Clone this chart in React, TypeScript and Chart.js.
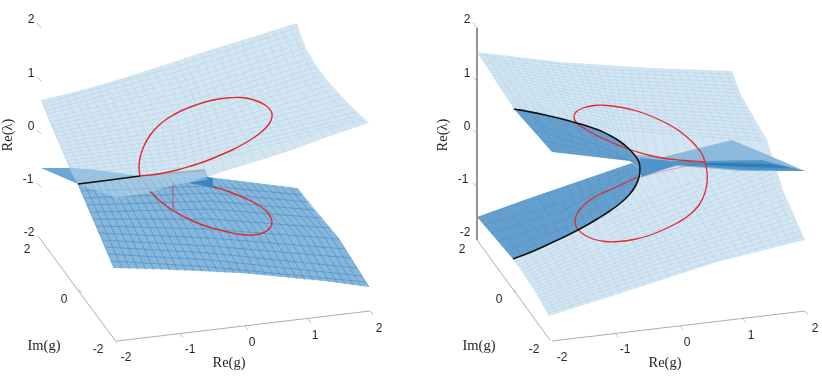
import React, { useEffect, useRef } from "react";
import { Chart, registerables } from "chart.js";

Chart.register(...registerables);

type P = [number, number];

// LEFT VIEW: surfaces
const leftFlap: P[] = [[41,168],[73,168],[97,170],[140,176],[78,184],[41,168]];
const leftLower: P[] = [[78,184],[140,176],[205,170],[208,177],[297,188],[310,205],[339,239],[354,263],[369,287],[325,281],[283,277],[240,273],[200,271],[155,269],[114,268],[78,184]];
const leftUpper: P[] = [[41,100],[70,93],[100,85],[133,75],[167,64],[200,53],[233,43],[265,33],[297,23],[301,36],[307,50],[316,65],[327,80],[347,102],[369,123],[330,136],[292,150],[258,161],[225,171],[208,177],[205,170],[140,176],[78,184],[70,170],[60,146],[50,123],[41,100]];
const leftPatch: P[] = [[80,185],[140,176],[205,170],[207,180],[173,185],[147,193],[117,198],[80,185]];
const leftDark: P[] = [[188,183],[205,177],[213,178],[213,188],[200,185],[188,183]];

// LEFT VIEW: upper sheet mesh
const lUpBack: P[] = [[41,100],[57,96],[73,92],[89,88],[105,83],[121,79],[137,74],[153,69],[169,64],[185,59],[201,53],[217,48],[233,43],[249,38],[265,33],[281,28]];
const lUpMid: P[] = [[59,142],[76,140],[93,137],[110,134],[127,131],[144,128],[161,124],[178,121],[195,117],[207,112],[222,108],[238,103],[254,99],[270,95],[288,90],[307,85]];
const lUpFront: P[] = [[78,184],[94,182],[110,180],[125,178],[140,176],[156,175],[172,173],[188,172],[205,170],[225,171],[245,165],[265,158],[285,152],[305,145],[325,138],[347,131]];
const lUpBack2: P[] = [[49,98],[65,94],[81,90],[97,85.5],[113,81],[129,76.5],[145,71.5],[161,66.5],[177,61.5],[193,56],[209,50.5],[225,45.5],[241,40.5],[257,35.5],[273,30.5],[289,25.5]];
const lUpMid2: P[] = [[67.5,141],[84.5,138.5],[101.5,135.5],[118.5,132.5],[135.5,129.5],[152.5,126],[169.5,122.5],[186.5,119],[201,114.5],[214.5,110],[230,105.5],[246,101],[262,97],[279,92.5],[297.5,87.5],[317,82.5]];
const lUpFront2: P[] = [[86,183],[102,181],[117.5,179],[132.5,177],[148,175.5],[164,174],[180,172.5],[196.5,171],[215,174],[235,168],[255,161.5],[275,155],[295,148.5],[315,141.5],[336,134.5],[358,127]];
const lUpRowL: P[] = [[44,107],[47,114],[50,122],[53,129],[56,136],[59,143],[62,150],[65,157],[68,164],[71,171],[74,177]];
const lUpRowM: P[] = [[180,71],[180,82],[180,93],[180,104],[180,115],[180,125],[180,134],[180,143],[180,151],[180,159],[190,167]];
const lUpRowR: P[] = [[298,33],[302,43],[306,53],[312,63],[318,72],[325,80],[333,90],[341,99],[350,108],[358,116],[364,120]];
const lUpRowL2: P[] = [[42.5,103.5],[45.5,110.5],[48.5,118],[51.5,125.5],[54.5,132.5],[57.5,139.5],[60.5,146.5],[63.5,153.5],[66.5,160.5],[69.5,167.5],[72.5,174]];
const lUpRowM2: P[] = [[180,65.5],[180,76.5],[180,87.5],[180,98.5],[180,109.5],[180,120],[180,129.5],[180,138.5],[180,147],[180,155],[185,163]];
const lUpRowR2: P[] = [[297,28],[300,38],[304,48],[310,58],[316,67.5],[322,76],[330,85],[339,94.5],[348,103.5],[356,112],[362,118]];

// LEFT VIEW: lower sheet mesh
const lLoTop: P[] = [[78,184],[91,183],[104,182],[118,181],[131,180],[144,179],[157,178],[170,178],[183,178],[196,178],[208,177],[220,179],[235,180],[250,182],[265,184],[281,186],[297,188]];
const lLoMid: P[] = [[96,226],[111,226],[126,226],[141,226],[157,227],[172,227],[187,228],[202,228],[218,229],[233,229],[248,229],[263,230],[278,231],[294,232],[309,234],[324,236],[339,239]];
const lLoBot: P[] = [[114,268],[130,269],[146,270],[162,270],[178,271],[194,271],[210,272],[226,273],[241,273],[257,274],[273,275],[289,278],[305,280],[321,281],[337,283],[353,285],[369,287]];
const lLoTop2: P[] = [[84.5,183.5],[97.5,182.5],[111,181.5],[124.5,180.5],[137.5,179.5],[150.5,178.5],[163.5,178],[176.5,178],[189.5,178],[202,177.5],[214,178],[227.5,179.5],[242.5,181],[257.5,183],[273,185],[289,187]];
const lLoMid2: P[] = [[103.5,226],[118.5,226],[133.5,226],[149,226.5],[164.5,227],[179.5,227.5],[194.5,228],[210,228.5],[225.5,229],[240.5,229],[255.5,229.5],[270.5,230.5],[286,231.5],[301.5,233],[316.5,235],[331.5,237.5]];
const lLoBot2: P[] = [[122,268.5],[138,269.5],[154,270],[170,270.5],[186,271],[202,271.5],[218,272.5],[233.5,273],[249,273.5],[265,274.5],[281,276.5],[297,279],[313,280.5],[329,282],[345,284],[361,286]];
const lLoRowL: P[] = [[81,191],[84,198],[87,205],[90,212],[93,219],[96,226],[99,233],[102,240],[105,247],[108,254],[111,261]];
const lLoRowM: P[] = [[210,186],[210,193],[210,201],[210,209],[210,219],[210,229],[210,238],[210,246],[210,253],[210,260],[210,267]];
const lLoRowR: P[] = [[302,195],[308,202],[314,210],[321,218],[330,228],[339,239],[345,249],[351,258],[357,268],[362,276],[366,282]];

// LEFT VIEW: curves
const lRedUpper: P[] = [[140,176],[139,168],[140,158],[143.5,147],[149.5,136],[158,126],[169,117.5],[182,110.5],[196,105],[211,100.5],[226,98],[241,97.5],[254,100],[265,105],[271,111],[272,117],[269,124],[262.5,131],[254,137.5],[243.5,144],[232,150],[219.5,155.5],[206,161],[191,166],[175,170.5],[158,174],[140,176]];
const lRedLower: P[] = [[150,191],[160,201],[172,210],[185.5,217.5],[200,224],[214,228.5],[228,232],[241,234.5],[253,235],[263,233],[270,228],[272,221.5],[269,214.5],[262,207.5],[252,201.5],[240,196],[227,191],[213,187]];
const lRedFaint: P[] = [[140,177],[147,187],[150,191]];
const lRedDrop: P[] = [[173,182],[173,210]];
const lBlack: P[] = [[78,184],[110,180],[140,176]];
const lGrey: P[] = [[140,176],[170,173],[205,170]];

// RIGHT VIEW: crease (black curve), used also as the border of the surfaces
const rBlack: P[] = [[514,109],[528,111.5],[543,114.5],[558,118],[573,122],[587,126],[600,130.5],[610,135.5],[620,141.5],[628,148],[635,155.5],[639,162],[640,169],[639,177],[635.5,186],[629,195],[620,203.5],[609,211.5],[598,218.5],[587,225],[575,231.5],[563,237.5],[550,243.5],[537,249.5],[525,254.5],[513,259]];
const rCreaseUp = rBlack.slice(0, 13);
const rCreaseLow = rBlack.slice(12);

// RIGHT VIEW: surfaces
const rLightOuter: P[] = [[477,52],[560,62],[653,68],[732,71],[740,93],[767,140],[783,190],[805,240],[720,261],[637,288],[549,316],[533,288]];
const rLight: P[] = [...rLightOuter, ...[...rBlack].reverse(), [477,52]];
const rUpperDark: P[] = [...rCreaseUp, [630,161],[552,152],[514,109]];
const rLowerDark: P[] = [[477,217],[527,199],[632,163],...rCreaseLow,[477,217]];
const rWing: P[] = [[637,155],[663,157],[732,140],[768,155],[805,171],[740,171],[705,168],[677,166],[640,175],[637,155]];
const rWingCore: P[] = [[640,158],[672,161],[705,161],[762,160],[805,171],[745,170],[705,167],[677,165],[641,177],[640,158]];
const rWingInner: P[] = [[705,163],[735,163],[770,164],[790,168],[745,167],[705,165],[705,163]];

// RIGHT VIEW: light mesh, half above the black crease
const rUpRowL: P[] = [[481,58],[484,63],[488,69],[492,75],[495,81],[499,86],[503,92],[507,98],[510,103]];
const rUpRowM: P[] = [[610,73],[610,80],[610,86],[611,93],[612,100],[613,107],[614,113],[616,120],[618,127]];
const rUpRowR: P[] = [[735,78],[737,86],[740,93],[743,101],[747,108],[751,115],[755,123],[759,130],[762,138]];
const rUpRowL2: P[] = [[479,55],[482.5,60.5],[486,66],[490,72],[493.5,78],[497,83.5],[501,89],[505,95],[508.5,100.5],[512,106]];
const rUpRowM2: P[] = [[610,69.5],[610,76.5],[610,83],[610.5,89.5],[611.5,96.5],[612.5,103.5],[613.5,110],[615,116.5],[617,123.5],[619,130]];
const rUpRowR2: P[] = [[733,74.5],[736,82],[738.5,89.5],[741.5,97],[745,104.5],[749,111.5],[753,119],[757,126.5],[760.5,134],[764,141]];
const rUpColA: P[] = [[493,54],[509,56],[525,58],[541,60],[557,62],[573,63],[589,65],[605,66],[621,67],[637,68],[653,69],[669,69],[685,70],[701,70],[717,71]];
const rUpColB: P[] = [[530,112],[547,115],[562,119],[577,123],[592,128],[607,133],[617,138],[627,147],[640,165],[660,165],[680,162],[700,160],[720,155],[735,152],[752,148]];
const rUpColA2: P[] = [[485,53],[501,55],[517,57],[533,59],[549,61],[565,62.5],[581,64],[597,65.5],[613,66.5],[629,67.5],[645,68.5],[661,69],[677,69.5],[693,70],[709,70.5],[725,71]];
const rUpColB2: P[] = [[522,110.5],[538.5,113.5],[554.5,117],[569.5,121],[584.5,125.5],[599.5,130.5],[612,135.5],[622,142.5],[633.5,156],[650,165],[670,163.5],[690,161],[710,157.5],[727.5,153.5],[743.5,150],[761,146.5]];

// RIGHT VIEW: light mesh, half below the black crease
const rLoRowL: P[] = [[517,265],[521,270],[524,276],[528,282],[532,288],[535,293],[539,299],[542,305],[546,310]];
const rLoRowM: P[] = [[620,215],[625,222],[630,231],[635,238],[640,245],[645,252],[650,258],[655,265],[660,272]];
const rLoRowR: P[] = [[772,159],[775,168],[778,177],[781,186],[784,195],[788,204],[792,213],[796,222],[800,231]];
const rLoRowL2: P[] = [[515.5,262],[519,267.5],[522.5,273],[526,279],[530,285],[533.5,290.5],[537,296],[540.5,302],[544,307.5],[547.5,313]];
const rLoRowM2: P[] = [[617,210],[622.5,218.5],[627.5,226.5],[632.5,234.5],[637.5,241.5],[642.5,248.5],[647.5,255],[652.5,261.5],[657.5,268.5],[662.5,276]];
const rLoRowR2: P[] = [[770,154.5],[773.5,163.5],[776.5,172.5],[779.5,181.5],[782,190.5],[786,199.5],[790,208.5],[794,217.5],[798,226.5],[802,235.5]];
const rLoColA: P[] = [[530,252],[546,245],[562,237],[578,230],[594,222],[610,212],[622,204],[632,193],[638,180],[655,172],[672,170],[690,168],[708,165],[728,160],[750,155]];
const rLoColB: P[] = [[565,311],[581,306],[597,301],[613,295.8],[629,290.6],[645,285.4],[661,280.2],[677,275],[693,269.8],[709,264.6],[725,259.8],[741,256],[757,252],[773,248],[789,244]];
const rLoColA2: P[] = [[522,255.5],[538,248.5],[554,241],[570,233.5],[586,226],[602,217],[616,208],[627,198.5],[635,186.5],[646,176],[663,171],[681,169],[699,166.5],[718,162.5],[739,157.5],[760,152.5]];
const rLoColB2: P[] = [[557,313.5],[573,308.5],[589,303.5],[605,298.5],[621,293],[637,288],[653,282.8],[669,277.5],[685,272.3],[701,267],[717,261.8],[733,257.5],[749,253.5],[765,249.5],[781,245.5],[797,242]];

// RIGHT VIEW: dark mesh
const rDkUColA: P[] = [[530,112],[547,115],[562,119],[577,123],[592,128],[607,133],[617,138],[627,147]];
const rDkUColB: P[] = [[560,153],[570,154],[580,155],[590,156],[600,157],[610,158],[618,159],[625,160]];
const rDkURowA: P[] = [[524,120],[533,130],[543,141]];
const rDkURowM: P[] = [[590,142],[585,146],[590,151]];
const rDkURowB: P[] = [[633,161],[632,161],[631,161]];
const rDkLColA: P[] = [[487,214],[497,211],[507,207],[517,204],[527,199],[537,196],[547,192],[557,189],[567,185],[577,182],[587,178],[597,175],[607,171],[617,168],[627,165]];
const rDkLColB: P[] = [[522,256],[530,252],[538,249],[546,245],[554,241],[562,237],[570,234],[578,230],[586,226],[594,222],[602,217],[610,212],[618,207],[626,200],[634,190]];
const rDkLRowA: P[] = [[484,225],[491,233],[498,241],[505,249]];
const rDkLRowM: P[] = [[560,203],[563,211],[566,219],[569,227]];
const rDkLRowB: P[] = [[634,166],[635,170],[636,174],[637,178]];

// RIGHT VIEW: red curves
const rRedUpper: P[] = [[705,162],[702,154],[696,146],[688,138],[678,130],[666,123],[652,116.5],[637,111],[622,107.5],[607,105.5],[594,105.5],[583,108],[576,112],[574,117],[576,122],[582,127],[590,132],[600,137],[611,142],[623,147],[636,151.5],[650,155.5],[665,158.5],[685,160.5],[705,162]];
const rRedLower: P[] = [[705,162],[707,172],[707,183],[704.5,194],[699,205],[690,214.5],[678,222.5],[664,229.5],[649,235.5],[634,239.5],[619,241.5],[605,241.5],[593,239],[583,234],[577,228],[575,221],[577,214],[582,207],[590,200],[600,194],[612,189],[625,183],[637,177]];
const rRedFaint: P[] = [[637,178],[660,172],[705,162]];

// Axes
const lAxisY: P[] = [[38,236],[117,343]];
const lAxisX: P[] = [[117,341],[370,311]];
const rAxisZ: P[] = [[477,28],[477,240]];
const rAxisY: P[] = [[477,240],[550,340]];
const rAxisX: P[] = [[552,341],[805,311]];
const tickStarts: P[] = [[37,23],[37,77],[37,130],[37,183],[78,290],[180,333],[245,326],[308,319],[370,311],[473,23],[473,77],[473,130],[473,183],[513,290],[615,333],[680,326],[743,319],[805,311]];
const tickEnds: P[] = [[41,28],[41,81],[41,134],[41,187],[82,292],[183,337],[248,330],[311,323],[373,315],[477,28],[477,81],[477,134],[477,187],[517,292],[618,337],[683,330],[746,323],[808,315]];

// Tick labels and titles
const tickTexts = ["2","1","0","-1","-2","2","0","-2","-2","-1","0","1","2","2","1","0","-1","-2","2","0","-2","-2","-1","0","1","2"];
const tickSpots: P[] = [[31,20],[31,74],[31,127],[28,180],[29,233],[27,250],[64,300],[98,350],[126,358],[190,350],[252,343],[315,336],[379,329],[467,20],[467,74],[467,127],[463,180],[465,233],[462,250],[499,300],[534,350],[562,358],[625,350],[687,343],[751,336],[815,329]];
const titleTexts = ["Re(g)","Im(g)","Re(g)","Im(g)"];
const titleSpots: P[] = [[229,363],[44,346],[665,363],[479,346]];
const sideTitleTexts = ["Re(λ)","Re(λ)"];
const sideTitleSpots: P[] = [[8,135],[443,135]];

// ---------- Styles ----------
const LIGHT_FILL = "rgba(182,211,232,0.6)";
const LIGHT_MESH = "rgba(160,203,226,0.5)";
const DARK_FILL = "#86b6da";
const DARK_MESH = "rgba(64,136,195,0.8)";
const DENSE_FILL = "#659fcd";
const DENSE_MESH = "rgba(70,140,195,0.55)";
const RED = "#df2a30";
const GREY = "#777777";

const toPts = (a: P[]) => a.map(([x, y]) => ({ x, y }));

// Joins the i-th point of every list into one polyline; NaN breaks the path between polylines.
const zip = (...lists: P[][]) => {
  const out: { x: number; y: number }[] = [];
  lists[0].forEach((_, i) => {
    lists.forEach((l) => out.push({ x: l[i][0], y: l[i][1] }));
    out.push({ x: NaN, y: NaN });
  });
  return out;
};

const area = (pts: P[], color: string) => ({
  data: toPts(pts), showLine: true, fill: "shape" as const, backgroundColor: color,
  borderWidth: 0, borderColor: "transparent", pointRadius: 0,
});
const mesh = (data: { x: number; y: number }[], color: string, width = 0.7) => ({
  data, showLine: true, fill: false, borderColor: color, borderWidth: width, pointRadius: 0, spanGaps: false,
});
const curve = (pts: P[], color: string, width: number, tension = 0.4) => ({
  data: toPts(pts), showLine: true, fill: false, borderColor: color, borderWidth: width, pointRadius: 0, tension,
});

const textPlugin = {
  id: "pictureText",
  afterDatasetsDraw(chart: any) {
    const { ctx, scales } = chart;
    const px = (p: P) => [scales.x.getPixelForValue(p[0]), scales.y.getPixelForValue(p[1])];
    ctx.save();
    ctx.textAlign = "center";
    ctx.textBaseline = "middle";
    ctx.fillStyle = "#262626";
    ctx.font = '12px "Liberation Sans"';
    tickTexts.forEach((t, i) => { const [x, y] = px(tickSpots[i]); ctx.fillText(t, x, y); });
    ctx.font = '14.5px "Liberation Serif"';
    titleTexts.forEach((t, i) => { const [x, y] = px(titleSpots[i]); ctx.fillText(t, x, y); });
    sideTitleTexts.forEach((t, i) => {
      const [x, y] = px(sideTitleSpots[i]);
      ctx.save(); ctx.translate(x, y); ctx.rotate(-Math.PI / 2); ctx.fillText(t, 0, 0); ctx.restore();
    });
    ctx.restore();
  },
};

export default function App() {
  const ref = useRef<HTMLCanvasElement>(null);
  useEffect(() => {
    // Listed from back to front.
    const layers: any[] = [
      curve(rAxisZ, GREY, 0.8, 0), curve(lAxisY, GREY, 0.6, 0), curve(lAxisX, GREY, 0.6, 0),
      curve(rAxisY, GREY, 0.6, 0), curve(rAxisX, GREY, 0.6, 0),
      mesh(zip(tickStarts, tickEnds), "#999999", 0.6),

      area(leftFlap, "#6ca7d3"),
      area(leftLower, DARK_FILL),
      mesh(zip(lLoTop, lLoMid, lLoBot), DARK_MESH),
      mesh(zip(lLoTop2, lLoMid2, lLoBot2), DARK_MESH),
      mesh(zip(lLoRowL, lLoRowM, lLoRowR), DARK_MESH),
      area(leftDark, "#3a84c0"),
      curve(lRedLower, RED, 1.4),
      curve(lRedFaint, "rgba(223,42,48,0.4)", 1),
      curve(lRedDrop, "rgba(223,42,48,0.4)", 0.7, 0),
      curve(lGrey, "#8096a5", 1.8, 0),
      area(leftUpper, LIGHT_FILL),
      area(leftPatch, "rgba(205,226,240,0.4)"),
      mesh(zip(lUpBack, lUpMid, lUpFront), LIGHT_MESH),
      mesh(zip(lUpBack2, lUpMid2, lUpFront2), LIGHT_MESH),
      mesh(zip(lUpRowL, lUpRowM, lUpRowR), LIGHT_MESH),
      mesh(zip(lUpRowL2, lUpRowM2, lUpRowR2), LIGHT_MESH),
      curve(lRedUpper, RED, 1.4),
      curve(lBlack, "#111111", 1.3, 0),

      area(rLight, "#d3e5f1"),
      mesh(zip(rUpRowL, rUpRowM, rUpRowR), LIGHT_MESH),
      mesh(zip(rUpRowL2, rUpRowM2, rUpRowR2), LIGHT_MESH),
      mesh(zip(rUpColA, rUpColB), LIGHT_MESH),
      mesh(zip(rUpColA2, rUpColB2), LIGHT_MESH),
      mesh(zip(rLoRowL, rLoRowM, rLoRowR), LIGHT_MESH),
      mesh(zip(rLoRowL2, rLoRowM2, rLoRowR2), LIGHT_MESH),
      mesh(zip(rLoColA, rLoColB), LIGHT_MESH),
      mesh(zip(rLoColA2, rLoColB2), LIGHT_MESH),
      area(rWing, "#8dbadc"),
      area(rWingCore, "#4f94c9"),
      area(rWingInner, "#2f7cb9"),
      area(rUpperDark, DENSE_FILL),
      mesh(zip(rDkUColA, rDkUColB), DENSE_MESH),
      mesh(zip(rDkURowA, rDkURowM, rDkURowB), DENSE_MESH),
      area(rLowerDark, DENSE_FILL),
      mesh(zip(rDkLColA, rDkLColB), DENSE_MESH),
      mesh(zip(rDkLRowA, rDkLRowM, rDkLRowB), DENSE_MESH),
      curve(rRedFaint, "rgba(223,42,48,0.35)", 1),
      curve(rRedUpper, RED, 1.3),
      curve(rRedLower, RED, 1.3),
      curve(rBlack, "#111111", 1.6),
    ];
    const datasets = layers.map((d, i) => ({ ...d, order: layers.length - i }));
    const chart = new Chart(ref.current as HTMLCanvasElement, {
      type: "scatter",
      data: { datasets },
      options: {
        animation: false,
        responsive: false,
        layout: { padding: 0 },
        events: [],
        plugins: { legend: { display: false }, tooltip: { enabled: false }, title: { display: false } },
        scales: {
          x: { type: "linear", min: 0, max: 822, display: false },
          y: { type: "linear", min: 0, max: 378, reverse: true, display: false },
        },
      },
      plugins: [textPlugin],
    });
    return () => chart.destroy();
  }, []);
  return (
    <canvas ref={ref} width={822} height={378} style={{ position: "absolute", left: 0, top: 0, display: "block" }} />
  );
}
